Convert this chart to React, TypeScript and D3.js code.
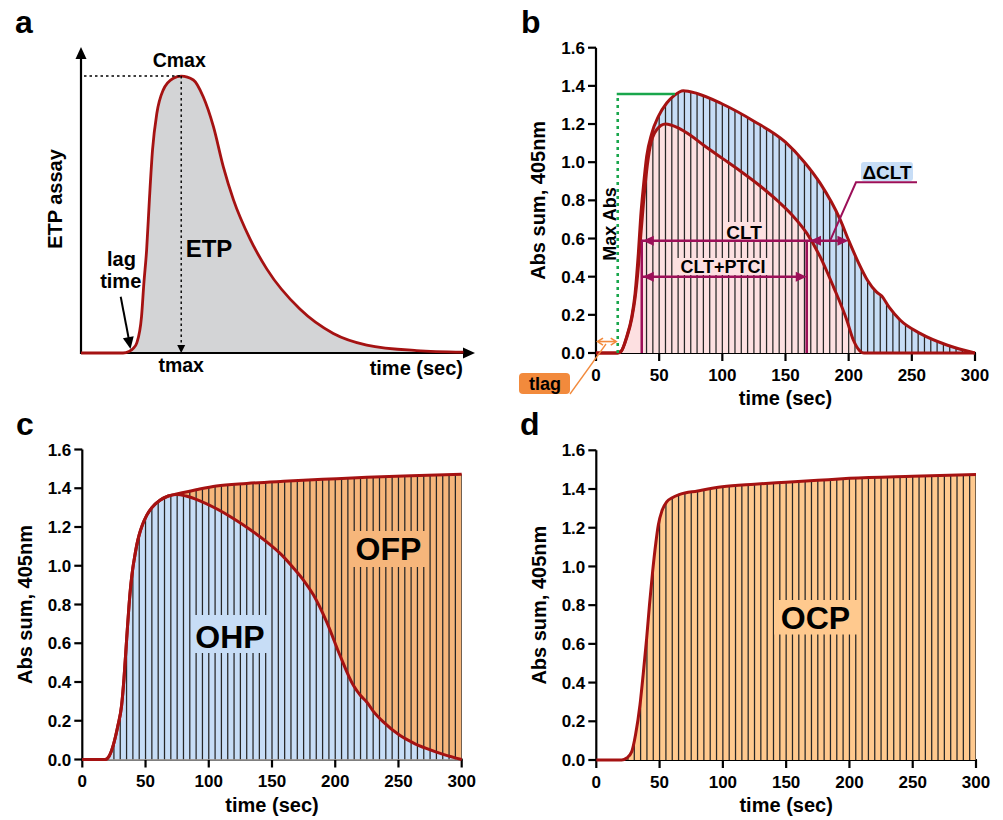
import React from 'react';
import * as d3 from 'd3';

// ---------- Panel a (schematic ETP curve, arbitrary units) ----------
const etpTime = [0, 10.7, 12.2, 13.3, 14.2, 15.4, 16.0, 16.7, 17.4, 18.2, 19.3, 20.9, 23.5, 25.5, 28.6, 31.1, 33.7, 36.2, 38.8, 43.0, 47.3, 55.7, 64.2, 72.7, 85.4, 97.3];
const etpValue = [0, 0, 0.5, 1.5, 3.3, 11.9, 22.9, 33.8, 50.2, 66.6, 78.6, 86.2, 90.1, 90.8, 89.5, 84.0, 74.2, 61.1, 50.2, 37.4, 27.5, 14.4, 6.4, 2.6, 0.8, 0.3];
const etpTmax = 25.5;
const etpCmax = 90.8;
const etpLag = 12.6;

// ---------- Panel b ----------
const bTotalTime = [0, 17, 20, 24.3, 28.3, 30.9, 33.5, 35.4, 37.5, 40.1, 44.1, 49.4, 56, 62, 69, 80, 100, 125, 150, 165, 177.4, 193.2, 200, 208, 215, 222, 226, 232, 240.7, 256.5, 277.7, 300];
const bTotalAbs = [0, 0, 0.01, 0.086, 0.19, 0.31, 0.52, 0.715, 0.87, 1.03, 1.15, 1.24, 1.31, 1.35, 1.375, 1.36, 1.305, 1.215, 1.105, 1.0, 0.89, 0.70, 0.59, 0.47, 0.38, 0.32, 0.30, 0.24, 0.173, 0.103, 0.042, 0];
const bLysisTime = [0, 17, 20, 24.3, 28.3, 31, 33.5, 35.5, 37.5, 40, 42.8, 48, 55, 65, 75, 85, 100, 115, 130, 145, 155, 166.8, 177.4, 187.9, 198.5, 203.7, 209, 212, 300];
const bLysisAbs = [0, 0, 0.01, 0.08, 0.18, 0.29, 0.45, 0.62, 0.78, 0.95, 1.08, 1.17, 1.2, 1.18, 1.14, 1.09, 1.02, 0.95, 0.875, 0.79, 0.725, 0.628, 0.505, 0.348, 0.173, 0.068, 0.01, 0, 0];
const bTlag = 17.2;
const bMaxAbs = 1.357;
const bMaxAbsEnd = 62.5;
const bCltStart = 36.2;
const bCltPtciEnd = 166.8;
const bDeltaStart = 169.4;
const bCltEnd = 199.8;
const bCltLevel = 0.588;
const bPtciLevel = 0.4;
const bTlagLevel = 0.06;

// ---------- Panel c ----------
const cOcpTime = [0, 18, 21, 24.5, 28, 31.1, 33, 35.1, 37, 38.5, 40, 41.5, 43, 45, 47.5, 50.9, 55, 61.4, 68, 74.6, 90, 106, 130, 159, 190, 225, 260, 300];
const cOcpAbs = [0, 0, 0.015, 0.074, 0.17, 0.28, 0.42, 0.624, 0.8, 0.91, 0.99, 1.05, 1.105, 1.16, 1.21, 1.26, 1.3, 1.338, 1.36, 1.37, 1.392, 1.412, 1.425, 1.436, 1.446, 1.457, 1.465, 1.472];
const cOhpTime = [0, 18, 21, 24.5, 28, 31.1, 33, 35.1, 37, 38.5, 40, 41.5, 43, 45, 47.5, 50.9, 55, 61.4, 68, 74.6, 82, 93, 105, 119.4, 132, 145.8, 157, 166.8, 175, 182.7, 193.2, 203.7, 214.3, 220, 224.9, 230, 238, 251, 262, 272, 286, 300];
const cOhpAbs = [0, 0, 0.015, 0.074, 0.17, 0.28, 0.42, 0.624, 0.8, 0.91, 0.99, 1.05, 1.105, 1.16, 1.21, 1.26, 1.3, 1.338, 1.36, 1.368, 1.36, 1.335, 1.298, 1.244, 1.19, 1.123, 1.06, 0.99, 0.925, 0.85, 0.71, 0.538, 0.383, 0.33, 0.297, 0.25, 0.194, 0.125, 0.085, 0.057, 0.025, 0];

// ---------- Panel d ----------
const dOcpTime = [0, 20, 24, 28, 31, 34.5, 37, 39.8, 42, 44.5, 47, 49, 52, 55.6, 60, 66, 80, 99.5, 125, 150, 175, 200, 250, 300];
const dOcpAbs = [0, 0, 0.01, 0.043, 0.13, 0.284, 0.44, 0.63, 0.8, 0.973, 1.12, 1.214, 1.29, 1.334, 1.355, 1.372, 1.39, 1.412, 1.425, 1.435, 1.445, 1.455, 1.466, 1.475];

// ---------- Axes ----------
const xTicks = [0, 50, 100, 150, 200, 250, 300];
const yTicks = [0, 0.2, 0.4, 0.6, 0.8, 1.0, 1.2, 1.4, 1.6];

const FONT = "'Liberation Sans', Arial, Helvetica, sans-serif";
const RED = '#a51212';
const MAGENTA = '#9c0f58';
const GREEN = '#19a64c';
const ORANGE = '#f28a3c';
const PINK = '#fde0e1';
const BLUE = '#c7ddf6';
const ORANGE_C = '#f6b67b';
const ORANGE_D = '#ffc98e';
const HATCH = '#262626';

type Pt = [number, number];
const zip = (ts: number[], vs: number[]): Pt[] => ts.map((t, i) => [t, vs[i]] as Pt);

function arrow(x1: number, y1: number, x2: number, y2: number, len = 11, half = 5) {
  const dx = x2 - x1, dy = y2 - y1;
  const L = Math.hypot(dx, dy);
  const ux = dx / L, uy = dy / L;
  const bx = x2 - ux * len, by = y2 - uy * len;
  return `${x2},${y2} ${bx - uy * half},${by + ux * half} ${bx + uy * half},${by - ux * half}`;
}

const fmt = d3.format('.1f');

function Axes({ x, y }: { x: d3.ScaleLinear<number, number>; y: d3.ScaleLinear<number, number> }) {
  const [x0, x1] = x.range();
  const [y0, y1] = y.range();
  return (
    <g fontFamily={FONT} fontWeight="bold" fill="#000">
      <line x1={x0} x2={x0} y1={y0 + 1} y2={y1} stroke="#000" strokeWidth={2.2} />
      <line x1={x0 - 1} x2={x1 + 1} y1={y0} y2={y0} stroke="#000" strokeWidth={2.2} />
      {yTicks.map((v) => (
        <g key={'y' + v}>
          <line x1={x0 - 8} x2={x0} y1={y(v)} y2={y(v)} stroke="#000" strokeWidth={2.2} />
          <text x={x0 - 11} y={y(v)} dy="0.36em" textAnchor="end" fontSize={17}>{fmt(v)}</text>
        </g>
      ))}
      {xTicks.map((t) => (
        <g key={'x' + t}>
          <line x1={x(t)} x2={x(t)} y1={y0} y2={y0 + 8} stroke="#000" strokeWidth={2.2} />
          <text x={x(t)} y={y0 + 27.5} textAnchor="middle" fontSize={17}>{t}</text>
        </g>
      ))}
      <text x={(x0 + x1) / 2} y={y0 + 52} textAnchor="middle" fontSize={20}>time (sec)</text>
      <text transform={`translate(${x0 - 58},${(y0 + y1) / 2}) rotate(-90)`} dy="0.36em" textAnchor="middle" fontSize={20}>Abs sum, 405nm</text>
    </g>
  );
}

function Hatch({ x, y, clipId, from }: { x: any; y: any; clipId: string; from: number }) {
  const [y0, y1] = y.range();
  return (
    <g clipPath={`url(#${clipId})`}>
      {d3.range(from, 301, 5).map((t) => (
        <line key={t} x1={x(t)} x2={x(t)} y1={y0} y2={y1} stroke={HATCH} strokeWidth={1.25} />
      ))}
    </g>
  );
}

function PanelA() {
  const x = d3.scaleLinear().domain([0, 100]).range([81, 474]);
  const y = d3.scaleLinear().domain([0, 100]).range([353, 48]);
  const pts = zip(etpTime, etpValue);
  const area = d3.area<Pt>().x((d) => x(d[0])).y0(y(0)).y1((d) => y(d[1])).curve(d3.curveMonotoneX);
  const line = d3.line<Pt>().x((d) => x(d[0])).y((d) => y(d[1])).curve(d3.curveMonotoneX);
  const tx = x(etpTmax), cy = y(etpCmax);
  return (
    <g>
      <path d={area(pts) || ''} fill="#d3d4d6" />
      <line x1={81} x2={81} y1={354} y2={58} stroke="#000" strokeWidth={2.2} />
      <polygon points={arrow(81, 100, 81, 47, 12, 5.5)} fill="#000" />
      <line x1={80} x2={464} y1={353} y2={353} stroke="#000" strokeWidth={2.2} />
      <polygon points={arrow(400, 353, 475, 353, 12, 5.5)} fill="#000" />
      <path d={line(pts) || ''} fill="none" stroke={RED} strokeWidth={2.8} />
      <line x1={84} x2={tx} y1={cy} y2={cy} stroke="#000" strokeWidth={1.4} strokeDasharray="2.5,3" />
      <line x1={tx} x2={tx} y1={cy} y2={345} stroke="#000" strokeWidth={1.4} strokeDasharray="2.5,3" />
      <polygon points={arrow(tx, 300, tx, 353, 8, 4)} fill="#000" />
      <line x1={120.7} y1={296.7} x2={x(etpLag) - 1.5} y2={340} stroke="#000" strokeWidth={2} />
      <polygon points={arrow(120.7, 296.7, x(etpLag), 349, 12, 5.5)} fill="#000" />
      <g fontFamily={FONT} fontWeight="bold" fill="#000" fontSize={20}>
        <text x={tx - 2} y={cy - 9} textAnchor="middle" fontSize={19.5}>Cmax</text>
        <text x={tx} y={372} textAnchor="middle" fontSize={19.5}>tmax</text>
        <text x={463} y={375} textAnchor="end">time (sec)</text>
        <text x={209} y={257} textAnchor="middle" fontSize={24}>ETP</text>
        <text x={121.5} y={266} textAnchor="middle">lag</text>
        <text x={120.7} y={288} textAnchor="middle">time</text>
        <text transform="translate(55,199) rotate(-90)" dy="0.36em" textAnchor="middle">ETP assay</text>
      </g>
    </g>
  );
}

function PanelB() {
  const x = d3.scaleLinear().domain([0, 300]).range([596, 975]);
  const y = d3.scaleLinear().domain([0, 1.6]).range([353, 47.7]);
  const top = zip(bTotalTime, bTotalAbs);
  const low = zip(bLysisTime, bLysisAbs);
  const area = d3.area<Pt>().x((d) => x(d[0])).y0(y(0)).y1((d) => y(d[1])).curve(d3.curveMonotoneX);
  const line = d3.line<Pt>().x((d) => x(d[0])).y((d) => y(d[1])).curve(d3.curveMonotoneX);
  const yc = y(bCltLevel), yp = y(bPtciLevel), yt = y(bTlagLevel);
  return (
    <g>
      <defs>
        <clipPath id="clip-b"><path d={area(top) || ''} /></clipPath>
      </defs>
      <Axes x={x} y={y} />
      <path d={area(top) || ''} fill={BLUE} />
      <path d={area(low) || ''} fill={PINK} />
      <Hatch x={x} y={y} clipId="clip-b" from={40} />
      {/* label backgrounds */}
      <rect x={724} y={222} width={41} height={18} fill={PINK} />
      <rect x={676} y={258} width={94} height={17} fill={PINK} />
      <path d={line(top) || ''} fill="none" stroke={RED} strokeWidth={3} />
      <path d={line(low) || ''} fill="none" stroke={RED} strokeWidth={3} />
      {/* Max Abs */}
      <line x1={x(bTlag)} x2={x(bTlag)} y1={y(0)} y2={y(bMaxAbs)} stroke={GREEN} strokeWidth={2.6} strokeDasharray="3,4" />
      <line x1={x(bTlag) - 1} x2={x(bMaxAbsEnd)} y1={y(bMaxAbs)} y2={y(bMaxAbs)} stroke={GREEN} strokeWidth={2.6} />
      <text transform="translate(610,224) rotate(-90)" dy="0.36em" textAnchor="middle" fontFamily={FONT} fontWeight="bold" fontSize={18}>Max Abs</text>
      {/* tlag */}
      <line x1={x(0) + 2} x2={x(bTlag) - 2} y1={yt} y2={yt} stroke={ORANGE} strokeWidth={1.6} />
      <polyline points={`${x(0) + 7},${yt - 3.5} ${x(0) + 1.5},${yt} ${x(0) + 7},${yt + 3.5}`} fill="none" stroke={ORANGE} strokeWidth={1.6} />
      <polyline points={`${x(bTlag) - 7},${yt - 3.5} ${x(bTlag) - 1.5},${yt} ${x(bTlag) - 7},${yt + 3.5}`} fill="none" stroke={ORANGE} strokeWidth={1.6} />
      <line x1={606} y1={344} x2={570} y2={394} stroke={ORANGE} strokeWidth={1.3} />
      <rect x={519} y={373} width={51} height={21} rx={4} fill={ORANGE} />
      <text x={545} y={390} textAnchor="middle" fontFamily={FONT} fontWeight="bold" fontSize={18}>tlag</text>
      {/* CLT annotations */}
      <line x1={x(bCltStart)} x2={x(bCltStart)} y1={y(0)} y2={yc - 1} stroke={MAGENTA} strokeWidth={2.5} />
      <line x1={x(bCltPtciEnd)} x2={x(bCltPtciEnd)} y1={y(0)} y2={yc} stroke={MAGENTA} strokeWidth={2.5} />
      <line x1={x(bCltStart)} x2={x(bCltEnd) - 4} y1={yc} y2={yc} stroke={MAGENTA} strokeWidth={2.5} />
      <polygon points={arrow(x(bCltStart) + 20, yc, x(bCltStart) + 1, yc)} fill={MAGENTA} />
      <polygon points={arrow(x(bDeltaStart) + 20, yc, x(bDeltaStart), yc)} fill={MAGENTA} />
      <polygon points={arrow(x(bDeltaStart), yc, x(bCltEnd), yc)} fill={MAGENTA} />
      <line x1={x(bCltStart)} x2={x(bCltPtciEnd) - 4} y1={yp} y2={yp} stroke={MAGENTA} strokeWidth={2.5} />
      <polygon points={arrow(x(bCltStart) + 20, yp, x(bCltStart) + 1, yp)} fill={MAGENTA} />
      <polygon points={arrow(x(bCltStart), yp, x(bCltPtciEnd), yp)} fill={MAGENTA} />
      <polyline points={`830,${yc} 856,182.3 917,182.3`} fill="none" stroke={MAGENTA} strokeWidth={2} />
      <rect x={861} y={162} width={52} height={19} rx={3} fill={BLUE} />
      <g fontFamily={FONT} fontWeight="bold" fill="#000">
        <text x={744} y={238.5} textAnchor="middle" fontSize={19}>CLT</text>
        <text x={723} y={273} textAnchor="middle" fontSize={18}>CLT+PTCI</text>
        <text x={887} y={178.5} textAnchor="middle" fontSize={19}>ΔCLT</text>
      </g>
    </g>
  );
}

function PanelC() {
  const x = d3.scaleLinear().domain([0, 300]).range([82.3, 461.7]);
  const y = d3.scaleLinear().domain([0, 1.6]).range([759.5, 449.5]);
  const top = zip(cOcpTime, cOcpAbs);
  const low = zip(cOhpTime, cOhpAbs);
  const area = d3.area<Pt>().x((d) => x(d[0])).y0(y(0)).y1((d) => y(d[1])).curve(d3.curveMonotoneX);
  const line = d3.line<Pt>().x((d) => x(d[0])).y((d) => y(d[1])).curve(d3.curveMonotoneX);
  return (
    <g>
      <defs>
        <clipPath id="clip-c"><path d={area(top) || ''} /></clipPath>
      </defs>
      <Axes x={x} y={y} />
      <path d={area(top) || ''} fill={ORANGE_C} />
      <path d={area(low) || ''} fill={BLUE} />
      <Hatch x={x} y={y} clipId="clip-c" from={0} />
      <rect x={191.5} y={615} width={77} height={38} fill={BLUE} />
      <rect x={349.5} y={531} width={78} height={36} fill={ORANGE_C} />
      <path d={line(top) || ''} fill="none" stroke={RED} strokeWidth={3} />
      <path d={line(low) || ''} fill="none" stroke={RED} strokeWidth={3} />
      <g fontFamily={FONT} fontWeight="bold" fill="#000" fontSize={32}>
        <text x={230} y={647.5} textAnchor="middle">OHP</text>
        <text x={388.5} y={560} textAnchor="middle">OFP</text>
      </g>
    </g>
  );
}

function PanelD() {
  const x = d3.scaleLinear().domain([0, 300]).range([596.3, 976]);
  const y = d3.scaleLinear().domain([0, 1.6]).range([760, 450.3]);
  const top = zip(dOcpTime, dOcpAbs);
  const area = d3.area<Pt>().x((d) => x(d[0])).y0(y(0)).y1((d) => y(d[1])).curve(d3.curveMonotoneX);
  const line = d3.line<Pt>().x((d) => x(d[0])).y((d) => y(d[1])).curve(d3.curveMonotoneX);
  return (
    <g>
      <defs>
        <clipPath id="clip-d"><path d={area(top) || ''} /></clipPath>
      </defs>
      <Axes x={x} y={y} />
      <path d={area(top) || ''} fill={ORANGE_D} />
      <Hatch x={x} y={y} clipId="clip-d" from={0} />
      <rect x={774} y={600} width={84} height={34.5} fill={ORANGE_D} />
      <path d={line(top) || ''} fill="none" stroke={RED} strokeWidth={3} />
      <text x={815.5} y={629} textAnchor="middle" fontFamily={FONT} fontWeight="bold" fontSize={32}>OCP</text>
    </g>
  );
}

export default function App() {
  return (
    <svg width={1003} height={820} viewBox="0 0 1003 820" style={{ position: 'absolute', left: 0, top: 0, background: '#fff' }}>
      <rect width={1003} height={820} fill="#fff" />
      <PanelA />
      <PanelB />
      <PanelC />
      <PanelD />
      <g fontFamily={FONT} fontWeight="bold" fontSize={32} fill="#000">
        <text x={15} y={33}>a</text>
        <text x={521} y={33}>b</text>
        <text x={16} y={435}>c</text>
        <text x={520} y={435}>d</text>
      </g>
    </svg>
  );
}
